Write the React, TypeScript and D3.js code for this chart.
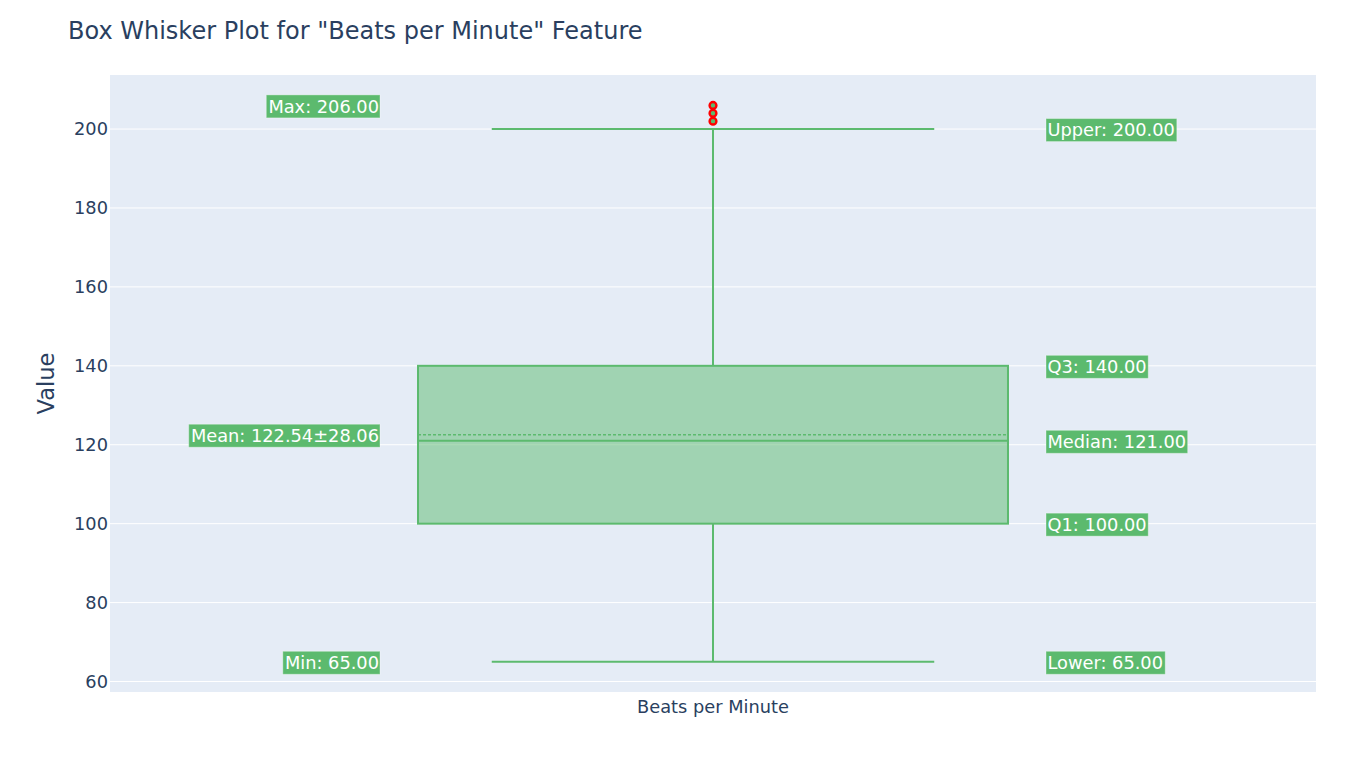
import React from "react";
import * as d3 from "d3";

const categories = ["Beats per Minute"];
const stats = { min: 65, lower: 65, q1: 100, median: 121, q3: 140, upper: 200, max: 206, mean: 122.54, std: 28.06 };
const outliers = [206, 204, 202];
const yTicks = [60, 80, 100, 120, 140, 160, 180, 200];
const leftLabels = [
  { text: "Max: 206.00", value: 206 },
  { text: "Mean: 122.54±28.06", value: 122.54 },
  { text: "Min: 65.00", value: 65 },
];
const rightLabels = [
  { text: "Upper: 200.00", value: 200 },
  { text: "Q3: 140.00", value: 140 },
  { text: "Median: 121.00", value: 121 },
  { text: "Q1: 100.00", value: 100 },
  { text: "Lower: 65.00", value: 65 },
];

const W = 1366, H = 768;
const plot = { l: 110, r: 1316, t: 75, b: 692 };
const green = "rgb(92,186,110)";
const font = "'DejaVu Sans', sans-serif";
const txt = "#2a3f5f";

const widths: Record<string, number> = {
  M: 0.863, a: 0.613, x: 0.592, ":": 0.337, " ": 0.318, ".": 0.318, e: 0.615, n: 0.634, "±": 0.838,
  i: 0.278, d: 0.635, U: 0.732, p: 0.635, r: 0.411, Q: 0.787, L: 0.557, o: 0.612, w: 0.818,
};
function estimateWidth(s: string, fs: number) {
  let t = 0;
  for (const c of s) t += /[0-9]/.test(c) ? 0.636 : widths[c] ?? 0.6;
  return t * fs;
}

function Label({ x, y, text, anchor }: { x: number; y: number; text: string; anchor: "start" | "end" }) {
  const fs = 17.8;
  const est = estimateWidth(text, fs);
  const bx = anchor === "end" ? x - est - 2 : x - 1;
  const yc = y + 1;
  return (
    <g>
      <rect x={bx} y={yc - 11.5} width={est + 3} height={23} fill={green} stroke="rgba(255,255,255,0.35)" strokeWidth={1} />
      <text x={anchor === "end" ? x : x + 0.5} y={yc} dy="0.36em" textAnchor={anchor} fill="#fff" fontSize={fs} fontFamily={font}>
        {text}
      </text>
    </g>
  );
}

export default function App() {
  const y = d3.scaleLinear().domain([57.34, 213.7]).range([plot.b, plot.t]);
  const x = d3.scaleBand().domain(categories).range([plot.l, plot.r]).paddingInner(0).paddingOuter(0);
  const cx = (x(categories[0]) ?? 0) + x.bandwidth() / 2;
  const boxHalf = x.bandwidth() * 0.2446;
  const capHalf = boxHalf * 0.75;
  const leftX = plot.l + 269;
  const rightX = plot.l + 937;
  return (
    <svg width={W} height={H} style={{ position: "absolute", left: 0, top: 0, background: "#fff" }}>
      <rect x={plot.l} y={plot.t} width={plot.r - plot.l} height={plot.b - plot.t} fill="#E5ECF6" />
      {yTicks.map((t) => (
        <g key={t}>
          <line x1={plot.l} x2={plot.r} y1={y(t)} y2={y(t)} stroke="#fff" strokeWidth={1} />
          <text x={plot.l - 2} y={y(t)} dy="0.36em" textAnchor="end" fill={txt} fontSize={17.8} fontFamily={font}>
            {t}
          </text>
        </g>
      ))}
      <line x1={cx} x2={cx} y1={y(stats.q3)} y2={y(stats.upper)} stroke={green} strokeWidth={2} />
      <line x1={cx} x2={cx} y1={y(stats.q1)} y2={y(stats.lower)} stroke={green} strokeWidth={2} />
      <line x1={cx - capHalf} x2={cx + capHalf} y1={y(stats.upper)} y2={y(stats.upper)} stroke={green} strokeWidth={2} />
      <line x1={cx - capHalf} x2={cx + capHalf} y1={y(stats.lower)} y2={y(stats.lower)} stroke={green} strokeWidth={2} />
      <rect
        x={cx - boxHalf}
        y={y(stats.q3)}
        width={boxHalf * 2}
        height={y(stats.q1) - y(stats.q3)}
        fill={green}
        fillOpacity={0.5}
        stroke={green}
        strokeWidth={2}
      />
      <line x1={cx - boxHalf} x2={cx + boxHalf} y1={y(stats.median)} y2={y(stats.median)} stroke={green} strokeWidth={2} />
      <line x1={cx - boxHalf} x2={cx + boxHalf} y1={y(stats.mean)} y2={y(stats.mean)} stroke={green} strokeWidth={1.5} strokeDasharray="3,2" />
      {outliers.map((o, i) => (
        <circle key={i} cx={cx} cy={y(o)} r={3.4} fill={green} stroke="red" strokeWidth={2.4} />
      ))}
      {leftLabels.map((l) => (
        <Label key={l.text} x={leftX} y={y(l.value)} text={l.text} anchor="end" />
      ))}
      {rightLabels.map((l) => (
        <Label key={l.text} x={rightX} y={y(l.value)} text={l.text} anchor="start" />
      ))}
      <text x={cx} y={707} dy="0.36em" textAnchor="middle" fill={txt} fontSize={17.8} fontFamily={font}>
        {categories[0]}
      </text>
      <text
        transform={`translate(46,${(plot.t + plot.b) / 2}) rotate(-90)`}
        textAnchor="middle"
        dy="0.36em"
        fill={txt}
        fontSize={22.5}
        fontFamily={font}
      >
        Value
      </text>
      <text x={68} y={30} dy="0.36em" fill={txt} fontSize={24} fontFamily={font}>
        Box Whisker Plot for "Beats per Minute" Feature
      </text>
    </svg>
  );
}
